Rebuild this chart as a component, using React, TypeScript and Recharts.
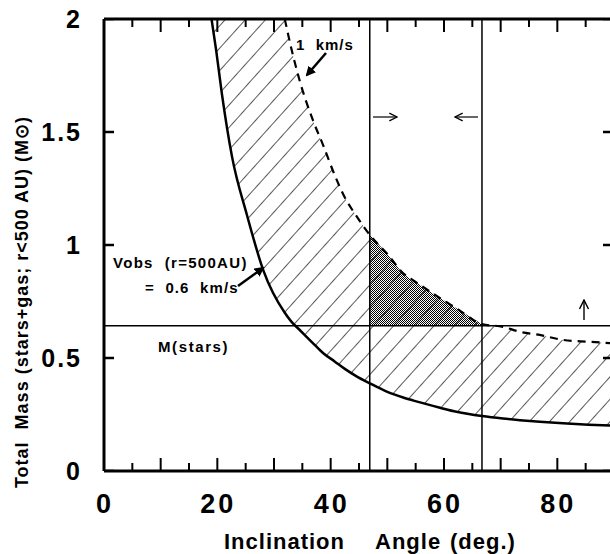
import React from "react";
import { Area, ComposedChart, Line, ReferenceLine, Scatter, XAxis, YAxis } from "recharts";

// inclination angle (deg.) sampled along the curves
const inclination = [
  18.8, 19.8, 20.8, 22.6, 25.2, 28.1, 31.9, 33.1, 34.5, 36.9, 38.7, 40.7, 42.5, 44.5,
  46.9, 50, 52.8, 55.1, 59.3, 62.2, 66.7, 70.4, 73.4, 76.9, 81, 85.5, 90
];
// Vobs = 0.6 km/s (solid)
const massSlow = [
  2.03, 1.86, 1.67, 1.39, 1.135, 0.889, 0.7, 0.66, 0.625, 0.565, 0.521, 0.485, 0.452, 0.42,
  0.388, 0.35, 0.325, 0.308, 0.28, 0.262, 0.243, 0.232, 0.225, 0.218, 0.211, 0.205, 0.2
];
// Vobs = 1 km/s (dashed), off the top of the chart below ~32 deg
const massFast: (number | null)[] = [
  null, null, null, null, null, null, 2.0, 1.865, 1.73, 1.55, 1.44, 1.31, 1.21, 1.13,
  1.045, 0.96, 0.875, 0.835, 0.765, 0.72, 0.65, 0.638, 0.616, 0.602, 0.58, 0.572, 0.565
];
const starMass = 0.643;
const angleLimits = [46.9, 66.7];
const xMax = 90;
const yMax = 2;

const xTicks = [0, 5, 10, 15, 20, 25, 30, 35, 40, 45, 50, 55, 60, 65, 70, 75, 80, 85, 90];
const xLabels = [0, 20, 40, 60, 80];
const yTicks = [0, 0.5, 1, 1.5, 2];

const data = inclination.map((x, i) => ({
  x,
  slow: massSlow[i],
  fast: massFast[i],
  band: [massSlow[i], massFast[i] ?? yMax],
  stip:
    x >= angleLimits[0] && x <= angleLimits[1] && massFast[i] != null
      ? [starMass, massFast[i]]
      : null
}));

// points where the inward tick marks sit, on each side of the frame
const bottomMarks = xTicks.map((v) => ({ x: v, y: 0, major: v % 10 === 0 }));
const topMarks = xTicks.map((v) => ({ x: v, y: yMax, major: v % 10 === 0 }));
const leftMarks = yTicks.map((v) => ({ x: 0, y: v }));
const rightMarks = yTicks.map((v) => ({ x: xMax, y: v }));

const font = "'Liberation Sans', Arial, Helvetica, sans-serif";

const BottomTick = (props: any) => {
  const v = props.payload.value;
  if (!xLabels.includes(v)) return <g />;
  return (
    <text
      x={Number(props.x) + 1}
      y={Number(props.y) + 42}
      textAnchor="middle"
      fontFamily={font}
      fontWeight="bold"
      fontSize={27}
      letterSpacing={3}
      fill="#000"
    >
      {v}
    </text>
  );
};

const LeftTick = (props: any) => (
  <text
    x={Number(props.x) - 22}
    y={Number(props.y)}
    dy="0.36em"
    textAnchor="end"
    fontFamily={font}
    fontWeight="bold"
    fontSize={25}
    letterSpacing={2}
    fill="#000"
  >
    {props.payload.value}
  </text>
);

const markShape = (dir: "up" | "down" | "right" | "left") => (p: any) => {
  const cx = Number(p.cx);
  const cy = Number(p.cy);
  const len = dir === "up" || dir === "down" ? (p.payload.major ? 13 : 8) : dir === "right" ? 10 : 11;
  const dx = dir === "right" ? len : dir === "left" ? -len : 0;
  const dy = dir === "up" ? -len : dir === "down" ? len : 0;
  return (
    <line
      x1={cx}
      y1={cy}
      x2={cx + dx}
      y2={cy + dy}
      stroke="#000"
      strokeWidth={dx ? 2.5 : 2}
    />
  );
};

const labelProps = {
  fontFamily: font,
  fontWeight: "bold" as const,
  fill: "#000",
  style: { whiteSpace: "pre" as const }
};

export default function App() {
  return (
    <div
      style={{
        position: "absolute",
        left: 0,
        top: 0,
        width: 610,
        height: 554,
        overflow: "hidden",
        background: "#fff"
      }}
    >
      <ComposedChart
        width={624}
        height={554}
        data={data}
        margin={{ top: 18, right: 9, bottom: 82, left: 103 }}
      >
        <defs>
          <pattern
            id="hatch"
            patternUnits="userSpaceOnUse"
            width="15"
            height="15"
            patternTransform="rotate(42)"
          >
            <line x1="0" y1="0" x2="0" y2="15" stroke="#000" strokeWidth="1.3" />
          </pattern>
          <pattern id="dots" patternUnits="userSpaceOnUse" width="2" height="2">
            <rect x="0" y="0" width="1" height="1" fill="#000" />
            <rect x="1" y="1" width="1" height="1" fill="#000" />
          </pattern>
          <marker
            id="headFill"
            viewBox="0 0 10 10"
            refX="8"
            refY="5"
            markerWidth="4"
            markerHeight="4"
            orient="auto"
          >
            <path d="M0,0 L10,5 L0,10 z" fill="#000" />
          </marker>
          <marker
            id="headOpen"
            viewBox="0 0 10 10"
            refX="9"
            refY="5"
            markerWidth="8"
            markerHeight="8"
            orient="auto"
          >
            <path d="M1,1 L9,5 L1,9" fill="none" stroke="#000" strokeWidth="1.3" />
          </marker>
        </defs>

        <XAxis
          dataKey="x"
          type="number"
          domain={[0, xMax]}
          ticks={xTicks}
          interval={0}
          allowDataOverflow
          height={1}
          tickSize={0}
          tickMargin={0}
          tickLine={false}
          tick={<BottomTick />}
          axisLine={{ stroke: "#000", strokeWidth: 3 }}
        />
        <XAxis
          xAxisId="top"
          orientation="top"
          dataKey="x"
          type="number"
          domain={[0, xMax]}
          allowDataOverflow
          height={1}
          tick={false}
          tickLine={false}
          axisLine={{ stroke: "#000", strokeWidth: 3 }}
        />
        <YAxis
          type="number"
          domain={[0, yMax]}
          ticks={yTicks}
          interval={0}
          allowDataOverflow
          width={1}
          tickSize={0}
          tickMargin={0}
          tickLine={false}
          tick={<LeftTick />}
          axisLine={{ stroke: "#000", strokeWidth: 3 }}
        />
        <YAxis
          yAxisId="right"
          orientation="right"
          type="number"
          domain={[0, yMax]}
          allowDataOverflow
          width={1}
          tick={false}
          tickLine={false}
          axisLine={{ stroke: "#000", strokeWidth: 3 }}
        />

        <Area
          dataKey="stip"
          type="monotone"
          stroke="none"
          fill="url(#dots)"
          fillOpacity={1}
          isAnimationActive={false}
          connectNulls={false}
        />
        <Area
          dataKey="band"
          type="monotone"
          stroke="none"
          fill="url(#hatch)"
          fillOpacity={1}
          isAnimationActive={false}
        />

        <ReferenceLine y={starMass} stroke="#000" strokeWidth={1.5} />
        <ReferenceLine x={angleLimits[0]} stroke="#000" strokeWidth={1.5} />
        <ReferenceLine x={angleLimits[1]} stroke="#000" strokeWidth={1.5} />

        <Line
          dataKey="slow"
          type="monotone"
          stroke="#000"
          strokeWidth={2.5}
          dot={false}
          isAnimationActive={false}
        />
        <Line
          dataKey="fast"
          type="monotone"
          stroke="#000"
          strokeWidth={2.2}
          strokeDasharray="8 6"
          dot={false}
          isAnimationActive={false}
        />

        {/* inward tick marks on the four sides of the frame */}
        <Scatter data={bottomMarks} dataKey="y" shape={markShape("up")} isAnimationActive={false} />
        <Scatter data={topMarks} dataKey="y" shape={markShape("down")} isAnimationActive={false} />
        <Scatter data={leftMarks} dataKey="y" shape={markShape("right")} isAnimationActive={false} />
        <Scatter data={rightMarks} dataKey="y" shape={markShape("left")} isAnimationActive={false} />

        {/* annotations */}
        <text x={296} y={50} fontSize={15} letterSpacing={1} {...labelProps}>
          {"1  km/s"}
        </text>
        <line x1={326} y1={53} x2={307} y2={75} stroke="#000" strokeWidth={2.5} markerEnd="url(#headFill)" />
        <text x={113} y={268} fontSize={15} letterSpacing={1.3} {...labelProps}>
          {"Vobs  (r=500AU)"}
        </text>
        <text x={145} y={293} fontSize={15} letterSpacing={1.1} {...labelProps}>
          {"=  0.6  km/s"}
        </text>
        <line x1={238} y1={286} x2={263} y2={268} stroke="#000" strokeWidth={2.5} markerEnd="url(#headFill)" />
        <text x={158} y={352} fontSize={15} letterSpacing={1.6} {...labelProps}>
          M(stars)
        </text>
        <line x1={373} y1={117} x2={397} y2={117} stroke="#000" strokeWidth={1.2} markerEnd="url(#headOpen)" />
        <line x1={478} y1={117} x2={455} y2={117} stroke="#000" strokeWidth={1.2} markerEnd="url(#headOpen)" />
        <line x1={584} y1={320} x2={584} y2={300} stroke="#000" strokeWidth={1.4} markerEnd="url(#headOpen)" />

        <text x={224} y={549} fontSize={22} letterSpacing={1} {...labelProps}>
          Inclination
        </text>
        <text x={375} y={549} fontSize={22} letterSpacing={1} {...labelProps}>
          Angle
        </text>
        <text x={450} y={549} fontSize={22} letterSpacing={1} {...labelProps}>
          (deg.)
        </text>
        <text
          transform="translate(28,302) rotate(-90)"
          fontSize={18}
          letterSpacing={1}
          textAnchor="middle"
          {...labelProps}
        >
          {"Total  Mass (stars+gas; r<500 AU) (M\u2299)"}
        </text>
      </ComposedChart>
    </div>
  );
}
